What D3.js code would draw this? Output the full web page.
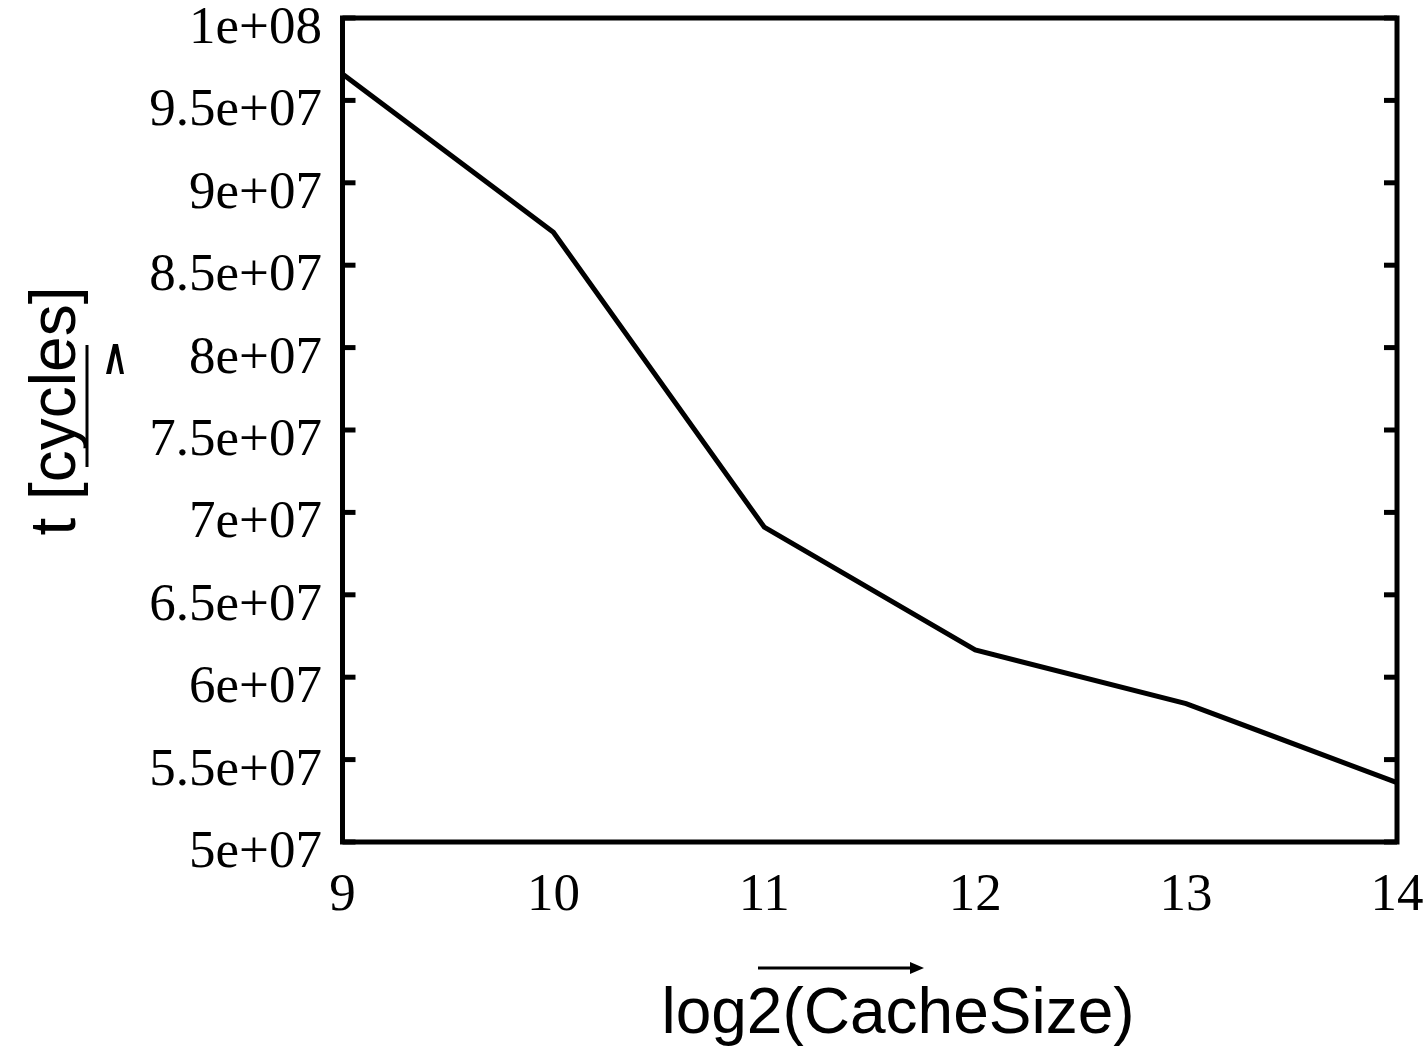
<!DOCTYPE html>
<html><head><meta charset="utf-8">
<script src="https://cdn.jsdelivr.net/npm/d3@7"></script>
<style>body{margin:0;background:#fff}svg{display:block}</style>
</head><body>
<svg id="c" width="1424" height="1047"></svg>
<script>
const xValues = [9, 10, 11, 12, 13, 14];
const tValues = [9.66e7, 8.70e7, 6.91e7, 6.165e7, 5.84e7, 5.36e7];
const xTicks = [9, 10, 11, 12, 13, 14];
const yTicks = [5e7, 5.5e7, 6e7, 6.5e7, 7e7, 7.5e7, 8e7, 8.5e7, 9e7, 9.5e7, 1e8];
const yTickLabels = ["5e+07","5.5e+07","6e+07","6.5e+07","7e+07","7.5e+07","8e+07","8.5e+07","9e+07","9.5e+07","1e+08"];
const xLabel = "log2(CacheSize)";
const yLabel = "t [cycles]";

const L = 342.5, R = 1397, T = 18, B = 842;
const svg = d3.select("#c");
const x = d3.scaleLinear().domain([9, 14]).range([L, R]);
const y = d3.scaleLinear().domain([5e7, 1e8]).range([B, T]);

const serif = "'Liberation Serif','Times New Roman',serif";
const sans = "'Liberation Sans',Arial,sans-serif";

// y ticks (inner, both sides)
const tk = 13;
const gT = svg.append("g").attr("stroke", "#000").attr("stroke-width", 5);
yTicks.forEach(v => {
  gT.append("line").attr("x1", L).attr("x2", L + tk).attr("y1", y(v)).attr("y2", y(v));
  gT.append("line").attr("x1", R - tk).attr("x2", R).attr("y1", y(v)).attr("y2", y(v));
});

// y tick labels
yTicks.forEach((v, i) => {
  svg.append("text").attr("x", 322).attr("y", y(v) + 25)
    .attr("text-anchor", "end").attr("font-family", serif).attr("font-size", 53)
    .text(yTickLabels[i]);
});
// x tick labels
xTicks.forEach(v => {
  svg.append("text").attr("x", x(v)).attr("y", 910)
    .attr("text-anchor", "middle").attr("font-family", serif).attr("font-size", 53)
    .text(String(v));
});

// data line
const line = d3.line().x((d, i) => x(xValues[i])).y(d => y(d));
svg.append("path").datum(tValues).attr("d", line)
  .attr("fill", "none").attr("stroke", "#000").attr("stroke-width", 5)
  .attr("stroke-linejoin", "miter");

// frame
svg.append("rect").attr("x", L).attr("y", T).attr("width", R - L).attr("height", B - T)
  .attr("fill", "none").attr("stroke", "#000").attr("stroke-width", 5);

// x label + arrow
svg.append("text").attr("x", 898).attr("y", 1033).attr("text-anchor", "middle")
  .attr("font-family", sans).attr("font-size", 64).text(xLabel);
svg.append("line").attr("x1", 758).attr("x2", 912).attr("y1", 968).attr("y2", 968)
  .attr("stroke", "#000").attr("stroke-width", 3);
svg.append("path").attr("d", "M910,962 L924,968 L910,974 Z").attr("fill", "#000");

// y label + arrow
svg.append("text").attr("transform", "translate(75,411) rotate(-90)")
  .attr("text-anchor", "middle").attr("font-family", sans).attr("font-size", 64).text(yLabel);
svg.append("line").attr("x1", 87).attr("x2", 87).attr("y1", 345).attr("y2", 467)
  .attr("stroke", "#000").attr("stroke-width", 3);
svg.append("path").attr("d", "M106,374 L113,344 L118,344 L124,374 L120,374 L115.5,353 L111,374 Z").attr("fill", "#000");
</script>
</body></html>
